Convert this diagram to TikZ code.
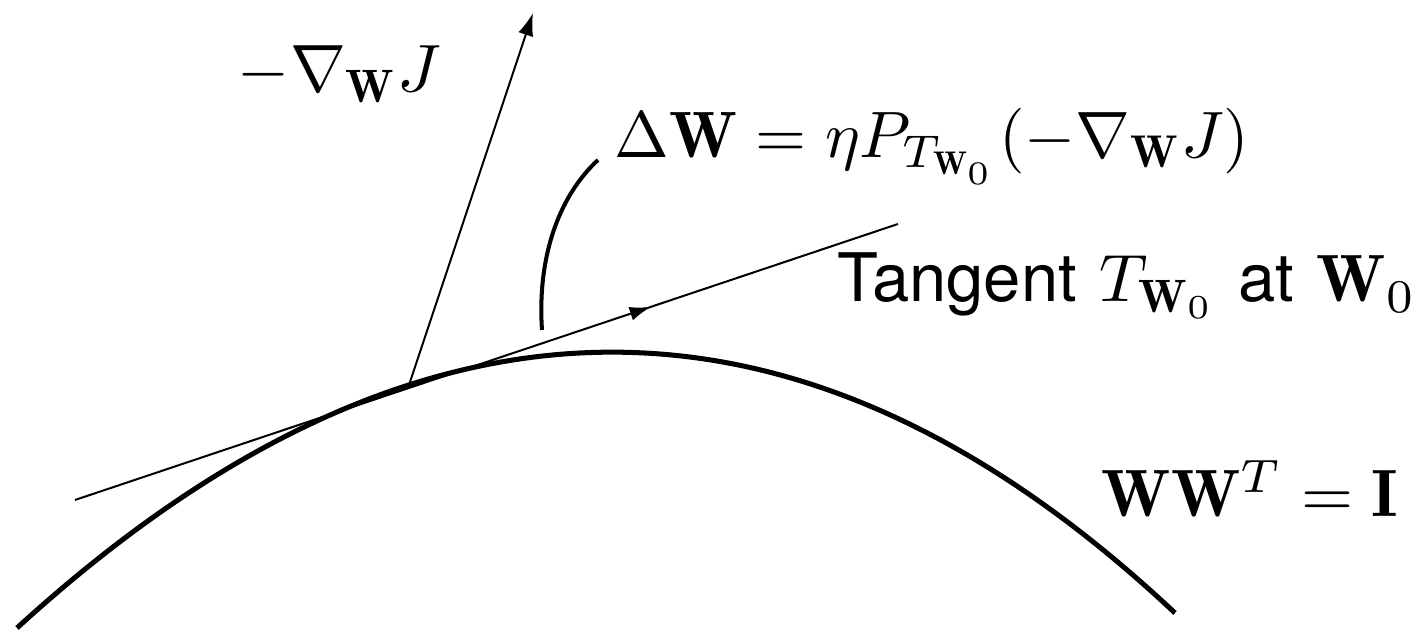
\documentclass[tikz,border=0pt]{standalone}
\usepackage{fontspec}
\setsansfont{TeX Gyre Heros}
\usetikzlibrary{arrows.meta,decorations.markings}
\tikzset{
  lbl/.style={anchor=base west,inner sep=0pt,outer sep=0pt},
  thin line/.style={line width=0.3pt},
  manifold/.style={line width=0.75pt},
  bend arc/.style={line width=0.6pt}
}
\begin{document}
\begin{tikzpicture}[x=0.1493pt,y=-0.1493pt]
\useasboundingbox (0,0) rectangle (1427,630);
% points
\coordinate (c0) at (17,628);
\coordinate (cA) at (413.7,265.3);
\coordinate (cB) at (799.7,260.3);
\coordinate (c1) at (1175,613);
\coordinate (p) at (408,388);
\coordinate (tA) at (75,500);
\coordinate (tB) at (898,224);
\coordinate (gTip) at (533,13);
\coordinate (a0) at (598,160);
\coordinate (a1) at (542,330);
% manifold curve
\draw[manifold] (c0) .. controls (cA) and (cB) .. (c1);
% tangent line with mid arrow
\draw[thin line, postaction={decorate}, decoration={markings,
  mark=at position 0.70 with {\arrow{Latex[length=3.2pt,width=2.1pt]}}}] (tA) -- (tB);
% gradient arrow
\draw[thin line, -{Latex[length=3.4pt,width=2.3pt]}] (p) -- (gTip);
% projection arc
\draw[bend arc] (a0) .. controls (560,195) and (537,255) .. (a1);
% labels
\node[lbl] (grad) at (238,92) {$-\nabla_{\mathbf{W}} J$};
\node[lbl,scale=0.98] (dw) at (615,158) {$\Delta\mathbf{W} = \eta P_{T_{\mathbf{W}_0}}(-\nabla_{\mathbf{W}} J)$};
\node[lbl] (tan) at (838,302) {\textsf{Tangent} $T_{\mathbf{W}_0}$ \textsf{at} $\mathbf{W}_0$};
\node[lbl] (ww) at (1102,517) {$\mathbf{W}\mathbf{W}^T = \mathbf{I}$};
\end{tikzpicture}
\end{document}
